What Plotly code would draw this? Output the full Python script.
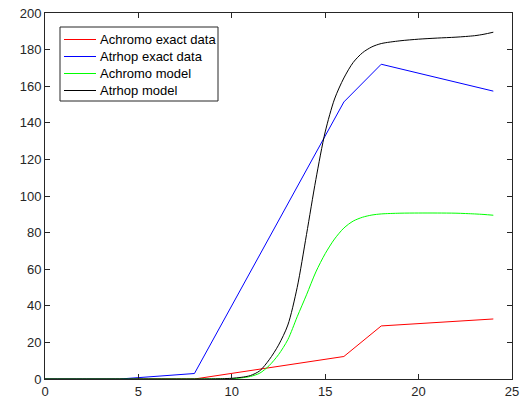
import plotly.graph_objects as go

# Exact data (sample times)
data_x = [0, 4, 8, 16, 18, 24]
achromo_data = [0, 0, 0, 12.3, 29, 32.8]
atrhop_data = [0, 0, 3, 151.4, 172, 157.3]

# Model curves
model_x = [0, 2, 4, 6, 8, 9, 9.5, 10, 10.5, 11, 11.5, 12, 12.5, 13, 13.5, 14, 14.5,
           15, 15.5, 16, 16.5, 17, 17.5, 18, 19, 20, 21, 22, 23, 23.5, 24]
atrhop_model = [0, 0, 0, 0, 0, 0.05, 0.15, 0.4, 0.9, 1.9, 4.5, 10.5, 18.5, 29.5, 50, 79, 109,
                135, 153, 164.5, 173, 178.3, 181.5, 183.3, 184.8, 185.7, 186.3, 186.8, 187.6, 188.4, 189.5]
achromo_model = [0, 0, 0, 0, 0, 0.05, 0.1, 0.2, 0.6, 1.4, 3.2, 7.3, 13.3, 21.5, 34, 46, 58.5,
                 68.5, 76.5, 82.5, 86.3, 88.4, 89.6, 90.2, 90.6, 90.7, 90.7, 90.6, 90.2, 89.9, 89.5]

series_names = ["Achromo exact data", "Atrhop exact data", "Achromo model", "Atrhop model"]
series_colors = ["#ff0000", "#0000ff", "#00ff00", "#000000"]

x_ticks = [0, 5, 10, 15, 20, 25]
y_ticks = [0, 20, 40, 60, 80, 100, 120, 140, 160, 180, 200]

W, H = 523, 405
ML, MR, MT, MB = 45, 11, 13, 26
PW, PH = W - ML - MR, H - MT - MB

def px_x(p):
    return (p - ML) / PW

def px_y(p):
    return (H - MB - p) / PH

fig = go.Figure()
fig.add_trace(go.Scatter(x=data_x, y=achromo_data, mode="lines", name=series_names[0],
                         line=dict(color=series_colors[0], width=1)))
fig.add_trace(go.Scatter(x=data_x, y=atrhop_data, mode="lines", name=series_names[1],
                         line=dict(color=series_colors[1], width=1)))
fig.add_trace(go.Scatter(x=model_x, y=achromo_model, mode="lines", name=series_names[2],
                         line=dict(color=series_colors[2], width=1, shape="spline", smoothing=0.8)))
fig.add_trace(go.Scatter(x=model_x, y=atrhop_model, mode="lines", name=series_names[3],
                         line=dict(color=series_colors[3], width=1, shape="spline", smoothing=0.8)))

axis_common = dict(showline=True, linecolor="#262626", linewidth=1, mirror="ticks",
                   ticks="inside", ticklen=5, tickcolor="#262626", showgrid=False, zeroline=False,
                   automargin=False,
                   tickfont=dict(family="Liberation Sans, Arial", size=13, color="#262626"))
fig.update_xaxes(range=[0, 25], tickvals=x_ticks, **axis_common)
fig.update_yaxes(range=[0, 200], tickvals=y_ticks, **axis_common)

# MATLAB-style legend box (drawn in paper coordinates)
box_l, box_r, box_t, box_b = 60, 218, 27, 101
shapes = [dict(type="rect", xref="paper", yref="paper",
               x0=px_x(box_l), x1=px_x(box_r), y0=px_y(box_b), y1=px_y(box_t),
               line=dict(color="#262626", width=1), fillcolor="white", layer="above")]
annotations = []
row_y = [39.5, 56.5, 73.5, 90.5]
for name, color, ry in zip(series_names, series_colors, row_y):
    shapes.append(dict(type="line", xref="paper", yref="paper",
                       x0=px_x(64), x1=px_x(96), y0=px_y(ry), y1=px_y(ry),
                       line=dict(color=color, width=1), layer="above"))
    annotations.append(dict(xref="paper", yref="paper", x=px_x(98), y=px_y(ry),
                            xanchor="left", yanchor="middle", text=name, showarrow=False,
                            font=dict(family="Liberation Sans, Arial", size=13, color="#000000")))

fig.update_layout(
    width=W, height=H,
    margin=dict(l=ML, r=MR, t=MT, b=MB),
    paper_bgcolor="white", plot_bgcolor="white",
    showlegend=False,
    shapes=shapes, annotations=annotations,
)

fig.write_html("out.html")
